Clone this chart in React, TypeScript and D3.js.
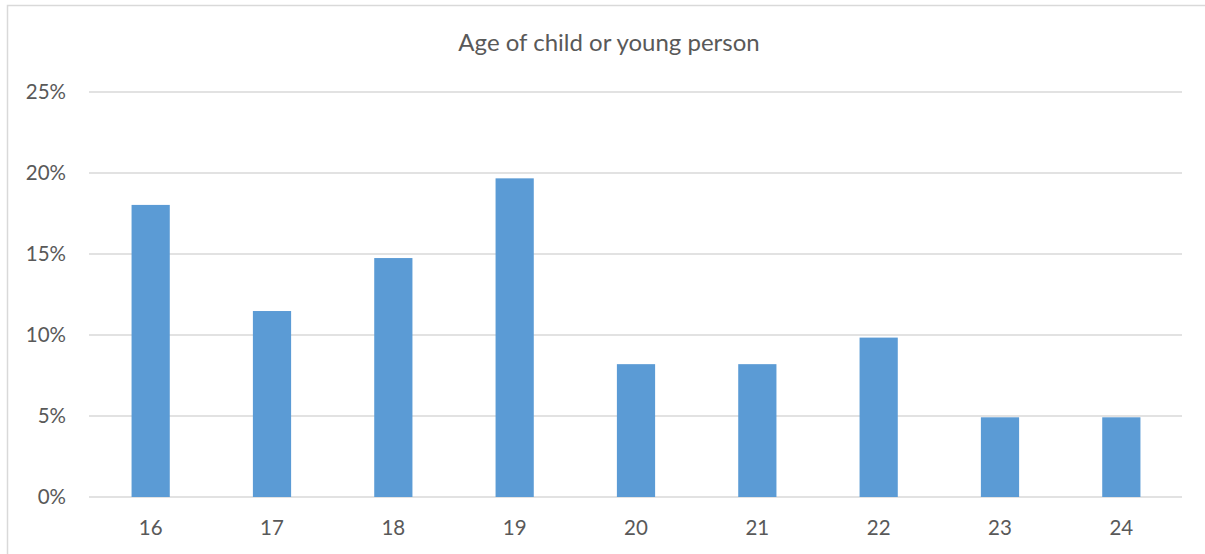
import React from "react";
import * as d3 from "d3";

const categories = ["16", "17", "18", "19", "20", "21", "22", "23", "24"];
const values = [0.1803, 0.1148, 0.1475, 0.1967, 0.082, 0.082, 0.0984, 0.0492, 0.0492];
const yTicks = [0, 0.05, 0.1, 0.15, 0.2, 0.25];
const title = "Age of child or young person";

export default function App() {
  const W = 1205, H = 554;
  const left = 90, right = 1182, top = 92, bottom = 497;
  const x = d3.scaleBand<string>().domain(categories).range([left, right]).paddingInner(0.685).paddingOuter(0.3425);
  const y = d3.scaleLinear().domain([0, 0.25]).range([bottom, top]);
  const font = "Lato, 'Open Sans', sans-serif";
  const textColor = "#595959";
  return (
    <svg width={W} height={H} style={{ position: "absolute", left: 0, top: 0, background: "#fff" }}>
      <rect x={7.5} y={5.5} width={W} height={H} fill="#fff" stroke="#d9d9d9" strokeWidth={1.5} />
      <text x={609} y={51} textAnchor="middle" fontFamily={font} fontSize={24} fill={textColor}>{title}</text>
      {yTicks.map((t) => (
        <g key={t}>
          <line x1={left - 1} x2={right} y1={y(t)} y2={y(t)} stroke="#d9d9d9" strokeWidth={1.5} />
          <text x={66} y={y(t) + 7} textAnchor="end" fontFamily={font} fontSize={20.5} fill={textColor}>{d3.format(".0%")(t)}</text>
        </g>
      ))}
      {categories.map((c, i) => (
        <rect key={c} x={x(c)} y={y(values[i])} width={x.bandwidth()} height={bottom - y(values[i])} fill="#5b9bd5" />
      ))}
      {categories.map((c) => (
        <text key={c} x={(x(c) as number) + x.bandwidth() / 2} y={535} textAnchor="middle" fontFamily={font} fontSize={20.5} fill={textColor}>{c}</text>
      ))}
    </svg>
  );
}
